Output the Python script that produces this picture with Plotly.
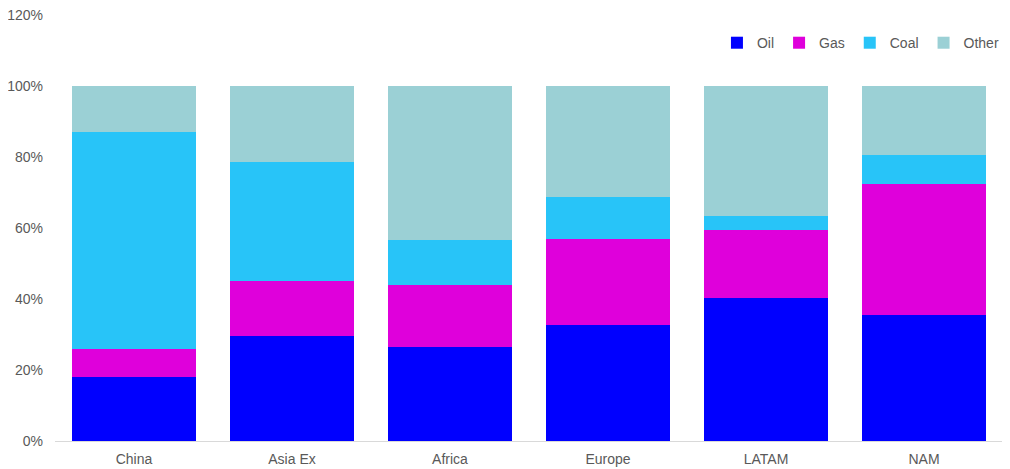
import plotly.graph_objects as go

categories = ["China", "Asia Ex", "Africa", "Europe", "LATAM", "NAM"]
oil = [0.180, 0.296, 0.265, 0.327, 0.403, 0.355]
gas = [0.079, 0.155, 0.174, 0.242, 0.191, 0.369]
coal = [0.611, 0.335, 0.127, 0.118, 0.040, 0.082]
other = [0.130, 0.214, 0.434, 0.313, 0.366, 0.194]

series = [
    ("Oil", oil, "#0000FF"),
    ("Gas", gas, "#DF00DB"),
    ("Coal", coal, "#28C4F8"),
    ("Other", other, "#9BD0D5"),
]

fig = go.Figure()
for name, vals, color in series:
    fig.add_trace(go.Bar(x=categories, y=vals, name=name,
                         marker=dict(color=color, line=dict(width=0))))

font = dict(family="Liberation Sans, Arial, sans-serif", size=14, color="#595959")
fig.update_layout(
    barmode="stack",
    bargap=0.22,
    width=1002, height=461,
    margin=dict(l=47, r=7, t=7, b=28, autoexpand=False),
    paper_bgcolor="white", plot_bgcolor="white",
    font=font,
    legend=dict(orientation="h", x=1.001, xanchor="right", y=0.934, yanchor="middle",
                font=font, itemwidth=30, traceorder="normal", bgcolor="rgba(0,0,0,0)"),
    xaxis=dict(showgrid=False, showline=True, linecolor="#D9D9D9", linewidth=1,
               ticks="", tickfont=font, ticklabelstandoff=5, automargin=False),
    yaxis=dict(range=[0, 1.2], dtick=0.2, tickformat=".0%", showgrid=False,
               zeroline=False, showline=False, ticks="", tickfont=font,
               ticklabelstandoff=11, automargin=False, ticklabeloverflow="allow"),
)
fig.write_html("out.html")
